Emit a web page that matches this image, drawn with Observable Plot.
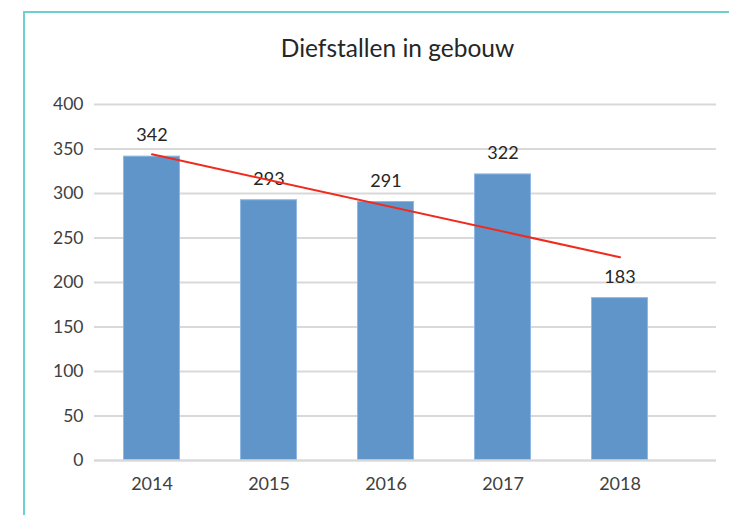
<!DOCTYPE html>
<html>
<head>
<meta charset="utf-8">
<script src="https://cdn.jsdelivr.net/npm/d3@7"></script>
<script src="https://cdn.jsdelivr.net/npm/@observablehq/plot@0.6"></script>
<style>
  html, body { margin: 0; padding: 0; background: #fff; }
  #wrap { position: relative; width: 729px; height: 515px; overflow: hidden; font-family: Lato, "Open Sans", sans-serif; }
  #frame { position: absolute; left: 23px; top: 11px; right: -10px; bottom: -10px;
           border-left: 2px solid #6cd0d0; border-top: 2px solid #6cd0d0; pointer-events: none; }
  #title { position: absolute; left: 0; width: 795px; top: 33px; text-align: center;
           font-size: 24.5px; color: #262626; font-family: Lato, "Open Sans", sans-serif; }
  #chart { position: absolute; left: 0; top: 0; }
</style>
</head>
<body>
<div id="wrap">
  <div id="chart"></div>
  <div id="frame"></div>
  <div id="title">Diefstallen in gebouw</div>
</div>
<script>
const years = ["2014", "2015", "2016", "2017", "2018"];
const values = [342, 293, 291, 322, 183];
const yTicks = [0, 50, 100, 150, 200, 250, 300, 350, 400];

const data = years.map((year, i) => ({year, value: values[i]}));

// linear trendline (least squares over category index)
const idx = years.map((_, i) => i + 1);
const mx = d3.mean(idx), my = d3.mean(values);
const slope = d3.sum(idx, (x, i) => (x - mx) * (values[i] - my)) / d3.sum(idx, x => (x - mx) ** 2);
const intercept = my - slope * mx;
const trend = [
  {year: years[0], value: intercept + slope * idx[0]},
  {year: years[years.length - 1], value: intercept + slope * idx[idx.length - 1]}
];

const chart = Plot.plot({
  width: 729,
  height: 515,
  marginTop: 104,
  marginBottom: 55,
  marginLeft: 94,
  marginRight: 13,
  style: {background: "transparent", fontFamily: "Lato, 'Open Sans', sans-serif", color: "#404040"},
  x: {domain: years, paddingInner: 0.514, paddingOuter: 0.41, align: 0.3, label: null},
  y: {domain: [0, 400], ticks: yTicks, label: null},
  marks: [
    Plot.gridY(yTicks, {stroke: "#d9d9d9", strokeOpacity: 1, strokeWidth: 2}),
    Plot.axisY(yTicks, {tickSize: 0, tickPadding: 11, fontSize: 17.5, fill: "#404040", label: null}),
    Plot.axisX({tickSize: 0, tickPadding: 17, fontSize: 18, fill: "#404040", label: null}),
    Plot.barY(data, {x: "year", y: "value", fill: "#6095ca", stroke: "#8fb8e4", strokeWidth: 1, inset: 0.5}),
    Plot.ruleY([0], {stroke: "#d9d9d9", strokeWidth: 2}),
    Plot.text(data, {x: "year", y: "value", text: d => String(d.value), dy: -15, lineAnchor: "bottom", fontSize: 18, fill: "#262626"}),
    Plot.line(trend, {x: "year", y: "value", stroke: "#f02a1c", strokeWidth: 2})
  ]
});
document.getElementById("chart").appendChild(chart);
</script>
</body>
</html>
